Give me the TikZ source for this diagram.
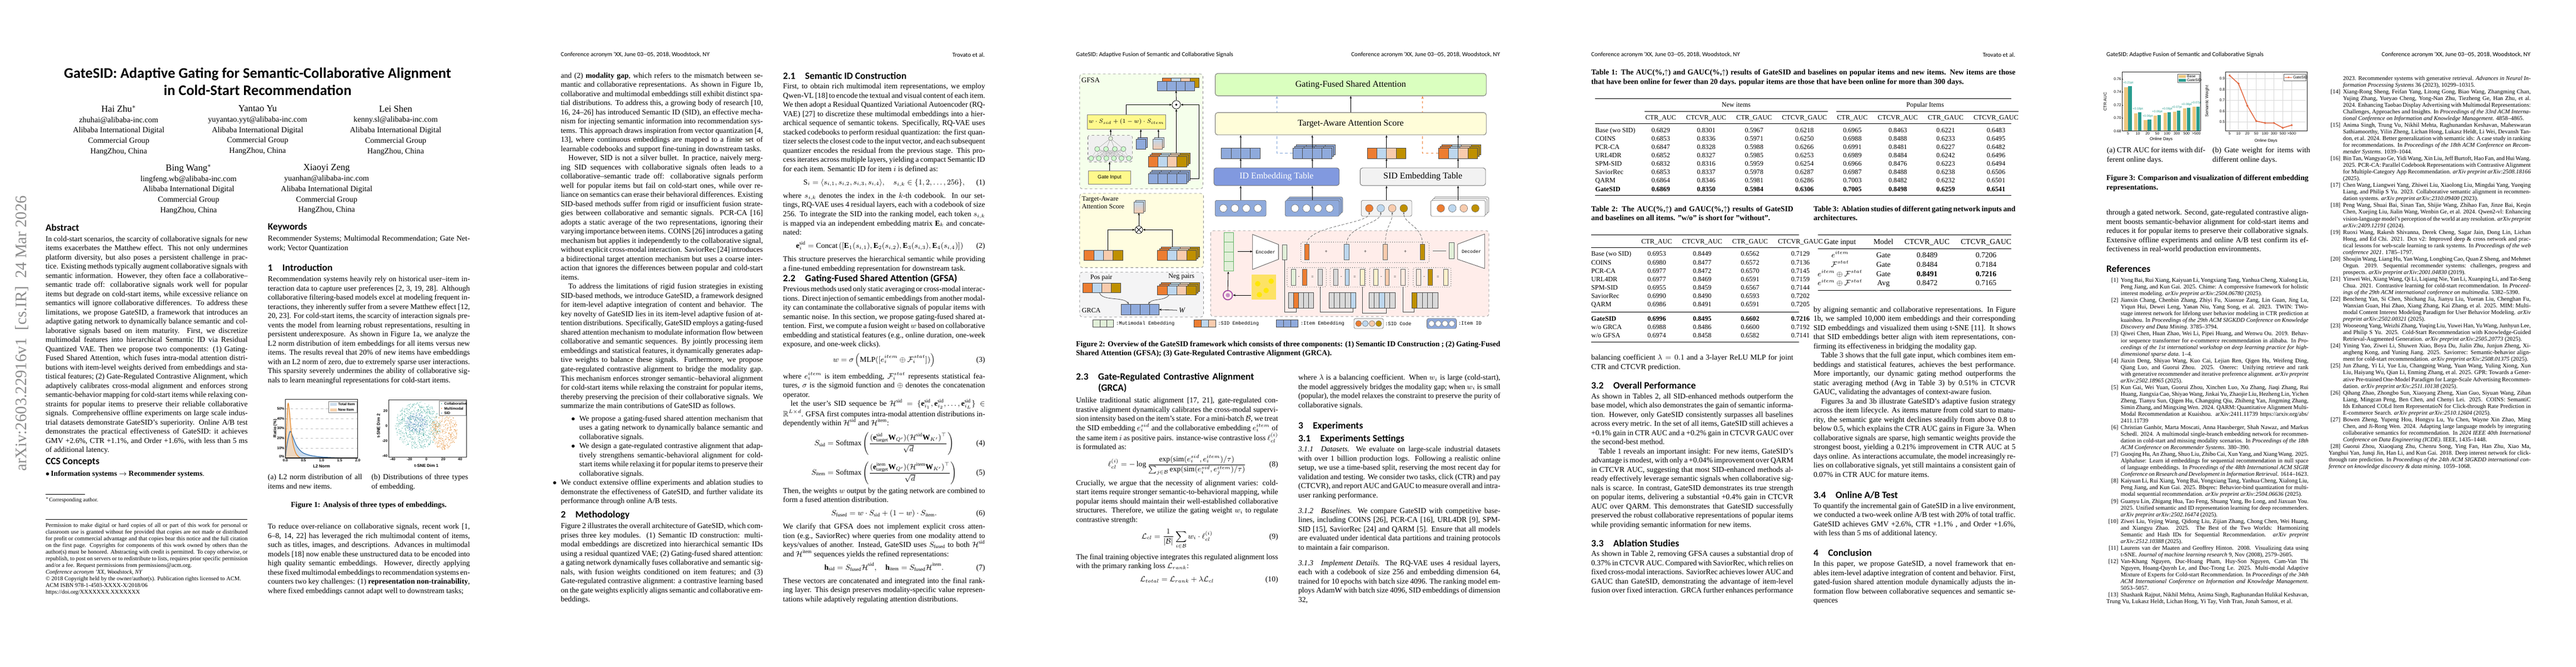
\documentclass[tikz,border=0pt]{standalone}
\usepackage{fontspec}
\usepackage{amsmath,amssymb}
\usepackage{booktabs}
\setmainfont{Liberation Serif}
\newfontfamily\hf{Carlito}
\newfontfamily\mfam{Liberation Mono}
\newfontfamily\pf{Liberation Sans}
\usetikzlibrary{arrows.meta}
\pgfdeclarelayer{bg}\pgfsetlayers{bg,main}
\definecolor{cO}{HTML}{ED7D31}\definecolor{cL}{HTML}{BDD7EE}\definecolor{cP}{HTML}{F8CBAD}
\definecolor{cG}{HTML}{BF9000}\definecolor{cB}{HTML}{8FAADC}\definecolor{cGr}{HTML}{E2F0D9}
\definecolor{cY}{HTML}{FFF2CC}\definecolor{cGy}{HTML}{D9D9D9}\definecolor{cTe}{HTML}{2A9D8F}
\definecolor{cBa}{HTML}{EDC77E}\definecolor{cRe}{HTML}{E2673F}\definecolor{cBl}{HTML}{2F6FB0}
\definecolor{cOr}{HTML}{E58A2E}\definecolor{cBd}{HTML}{7FA3D9}
\newcommand\bodyf{\fontsize{9}{10.9}\selectfont\parindent=9pt\abovedisplayskip=5pt plus 2pt\belowdisplayskip=5pt plus 2pt\abovedisplayshortskip=2pt\belowdisplayshortskip=3pt}
\newcommand\reff{\fontsize{7}{7.95}\selectfont\sloppy}
\newcommand\rf[2]{\par\hangindent=17pt\hangafter=1\noindent\makebox[14pt][r]{[#1]}\hspace{3pt}#2}
\newcommand\qv[5]{\foreach \cc [count=\ii from 0] in {#5}{\draw[fill=\cc,draw=black!70,line width=.35pt] ({#1+\ii*#3},{#2}) rectangle ++(#3,#4);}}
\newcommand\qs[5]{\qv{#1+4}{#2-4}{#3}{#4}{#5}\qv{#1+2}{#2-2}{#3}{#4}{#5}\qv{#1}{#2}{#3}{#4}{#5}}
\tikzset{
 col/.style={anchor=north west,inner sep=0pt,text width=240pt,align=justify,font=\bodyf},
 sec/.style={anchor=west,inner sep=0pt,font=\hf\bfseries\fontsize{11.5}{13}\selectfont},
 hdr/.style={anchor=west,inner sep=0pt,font=\hf\fontsize{7.3}{8}\selectfont},
 hdrr/.style={anchor=east,inner sep=0pt,font=\hf\fontsize{7.3}{8}\selectfont},
 capt/.style={anchor=north west,inner sep=0pt,align=justify,font=\fontsize{9}{10.9}\selectfont\bfseries},
 arr/.style={-{Stealth[length=3pt,width=2.4pt]},line width=.5pt},
 bx/.style={draw=black!55,rounded corners=3pt,line width=.6pt,minimum width=322pt,minimum height=26.5pt,font=\fontsize{10.5}{12}\selectfont},
 tk/.style={font=\pf\bfseries\fontsize{4.3}{5}\selectfont,inner sep=1pt},
 tk2/.style={font=\pf\fontsize{4.5}{5}\selectfont,inner sep=1pt},
 ax/.style={line width=.7pt,draw=black!85},
 pan/.style={dashed,draw=black!45,rounded corners=3pt,line width=.5pt},
 cir/.style={circle,draw=black!60,line width=.35pt,inner sep=0pt,minimum size=9pt},
}
\begin{document}
\begin{tikzpicture}[x=1pt,y=-1pt]
\begin{pgfonlayer}{bg}\fill[white] (0,0) rectangle (3060,792);\end{pgfonlayer}
\useasboundingbox (0,0) rectangle (3060,792);
%================= PAGE 1
\node[rotate=90,font=\fontsize{19}{19}\selectfont,text=black!45] (stamp) at (26,396) {arXiv:2603.22916v1\ \ [cs.IR]\ \ 24 Mar 2026};
\node[anchor=north,inner sep=0,align=center,font=\hf\bfseries\fontsize{17.5}{20.5}\selectfont] (title) at (306,80) {GateSID: Adaptive Gating for Semantic-Collaborative Alignment\\in Cold-Start Recommendation};
\tikzset{au/.style={anchor=north,inner sep=0,align=center,font=\fontsize{9.4}{12.4}\selectfont}}
\node[au] (a1) at (141,125) {{\fontsize{11}{12.4}\selectfont Hai Zhu$^{*}$}\\zhuhai@alibaba-inc.com\\Alibaba International Digital\\Commercial Group\\HangZhou, China};
\node[au] (a2) at (306,125) {{\fontsize{11}{12.4}\selectfont Yantao Yu}\\yuyantao.yyt@alibaba-inc.com\\Alibaba International Digital\\Commercial Group\\HangZhou, China};
\node[au] (a3) at (470,125) {{\fontsize{11}{12.4}\selectfont Lei Shen}\\kenny.sl@alibaba-inc.com\\Alibaba International Digital\\Commercial Group\\HangZhou, China};
\node[au] (a4) at (224,195) {{\fontsize{11}{12.4}\selectfont Bing Wang$^{*}$}\\lingfeng.wb@alibaba-inc.com\\Alibaba International Digital\\Commercial Group\\HangZhou, China};
\node[au] (a5) at (388,195) {{\fontsize{11}{12.4}\selectfont Xiaoyi Zeng}\\yuanhan@alibaba-inc.com\\Alibaba International Digital\\Commercial Group\\HangZhou, China};
\node[sec] (habs) at (54,270) {Abstract};
\node[col] (abs) at (54,280) {\noindent In cold-start scenarios, the scarcity of collaborative signals for new items exacerbates the Matthew effect. This not only undermines platform diversity, but also poses a persistent challenge in practice. Existing methods typically augment collaborative signals with semantic information. However, they often face a collaborative--semantic trade off: collaborative signals work well for popular items but degrade on cold-start items, while excessive reliance on semantics will ignore collaborative differences. To address these limitations, we propose GateSID, a framework that introduces an adaptive gating network to dynamically balance semantic and collaborative signals based on item maturity. First, we discretize multimodal features into hierarchical Semantic ID via Residual Quantized VAE. Then we propose two components: (1) Gating-Fused Shared Attention, which fuses intra-modal attention distributions with item-level weights derived from embeddings and statistical features; (2) Gate-Regulated Contrastive Alignment, which adaptively calibrates cross-modal alignment and enforces strong semantic-behavior mapping for cold-start items while relaxing constraints for popular items to preserve their reliable collaborative signals. Comprehensive offline experiments on large scale industrial datasets demonstrate GateSID's superiority. Online A/B test demonstrates the practical effectiveness of GateSID: it achieves GMV +2.6\%, CTR +1.1\%, and Order +1.6\%, with less than 5 ms of additional latency.};
\node[sec] (hccs) at (54,549) {CCS Concepts};
\node[anchor=west,inner sep=0,font=\fontsize{9}{10.9}\selectfont] (ccs) at (54,563) {$\bullet$\,\textbf{Information systems} $\rightarrow$ \textbf{Recommender systems}.};
\draw[line width=.4pt] (54,587) -- (101,587);
\node[anchor=west,inner sep=0,font=\fontsize{6.5}{7}\selectfont] (fn) at (54,594) {$^{*}$Corresponding author.};
\draw[line width=.4pt] (54,617) -- (294,617);
\node[anchor=north west,inner sep=0,text width=240pt,align=justify,font=\fontsize{6.9}{7.95}\selectfont] (perm) at (54,621) {Permission to make digital or hard copies of all or part of this work for personal or classroom use is granted without fee provided that copies are not made or distributed for profit or commercial advantage and that copies bear this notice and the full citation on the first page. Copyrights for components of this work owned by others than the author(s) must be honored. Abstracting with credit is permitted. To copy otherwise, or republish, to post on servers or to redistribute to lists, requires prior specific permission and/or a fee. Request permissions from permissions@acm.org.\\\textit{Conference acronym 'XX, Woodstock, NY}\\\copyright\ 2018 Copyright held by the owner/author(s). Publication rights licensed to ACM.\\ACM ISBN 978-1-4503-XXXX-X/2018/06\\https://doi.org/XXXXXXX.XXXXXXX};
\node[sec] (hkw) at (318,270) {Keywords};
\node[col] (kw) at (318,280) {\noindent Recommender Systems; Multimodal Recommendation; Gate Network; Vector Quantization};
\node[sec] (hint) at (318,318) {1\quad Introduction};
\node[col] (intro) at (318,328) {\noindent Recommendation systems heavily rely on historical user--item interaction data to capture user preferences [2, 3, 19, 28]. Although collaborative filtering-based models excel at modeling frequent interactions, they inherently suffer from a severe Matthew effect [12, 20, 23]. For cold-start items, the scarcity of interaction signals prevents the model from learning robust representations, resulting in persistent underexposure. As shown in Figure 1a, we analyze the L2 norm distribution of item embeddings for all items versus new items. The results reveal that 20\% of new items have embeddings with an L2 norm of zero, due to extremely sparse user interactions. This sparsity severely undermines the ability of collaborative signals to learn meaningful representations for cold-start items.};
% Fig 1a
\begin{scope}[shift={(339,544)},x=43pt,y=1.172pt]
\foreach \v in {10,20,30,40,50}{\draw[black!25,dashed,line width=.3pt] (0,\v) -- (2,\v); \node[tk,anchor=east] at (0,\v) {\v\%};}
\node[tk,anchor=east] at (0,1.5) {0\%};
\fill[cBl!25] plot[smooth] coordinates {(0,0) (0.05,15) (0.13,27) (0.2,22) (0.3,13) (0.4,8) (0.5,5) (0.7,2.5) (1.0,1) (1.5,0.2) (2,0)} -- cycle;
\fill[cOr!35,opacity=.8] plot[smooth] coordinates {(0,0) (0.03,30) (0.07,55) (0.11,48) (0.16,28) (0.22,13) (0.3,4) (0.4,0.5) (0.5,0)} -- cycle;
\draw[cBl,line width=.8pt] plot[smooth] coordinates {(0,0) (0.05,15) (0.13,27) (0.2,22) (0.3,13) (0.4,8) (0.5,5) (0.7,2.5) (1.0,1) (1.5,0.2) (2,0)};
\draw[cOr,line width=.8pt] plot[smooth] coordinates {(0,0) (0.03,30) (0.07,55) (0.11,48) (0.16,28) (0.22,13) (0.3,4) (0.4,0.5) (0.5,0)};
\draw[ax] (0,0) rectangle (2,59.2);
\foreach \v in {0.0,0.5,1.0,1.5,2.0}{\node[tk,anchor=north] at (\v,0) {\v};}
\node[tk,anchor=north,font=\pf\bfseries\fontsize{5}{6}\selectfont] at (1,-6) {L2 Norm};
\node[tk,rotate=90,anchor=south,font=\pf\bfseries\fontsize{5}{6}\selectfont] at (-0.2,30) {Ratio (\%)};
\draw[black!50,fill=white,line width=.3pt] (1.2,57.5) rectangle (1.97,46);
\fill[cBl!25] (1.24,55.8) rectangle (1.42,53);\fill[cOr!40] (1.24,50.3) rectangle (1.42,47.5);
\node[tk,anchor=west] at (1.43,54.4) {Total Item};\node[tk,anchor=west] at (1.43,48.9) {New Item};
\end{scope}
% Fig 1b
\begin{scope}
\clip (461.5,475) rectangle (554.6,543);
\begin{scope}[shift={(506.5,505.9)},x=1pt,y=0.883pt]
\pgfmathsetseed{7}
\foreach \i in {1,...,650}{\pgfmathsetmacro\ra{sqrt(rnd)}\pgfmathsetmacro\an{360*rnd}\fill[cTe] ({-10+27*\ra*cos(\an)},{1+32*\ra*sin(\an)}) circle (0.38pt);}
\foreach \i in {1,...,220}{\pgfmathsetmacro\ra{sqrt(rnd)}\pgfmathsetmacro\an{360*rnd}\fill[cBl!85] ({-12+13*\ra*cos(\an)},{4+13*\ra*sin(\an)}) circle (0.38pt);}
\foreach \i in {1,...,420}{\pgfmathsetmacro\ra{sqrt(rnd)}\pgfmathsetmacro\an{360*rnd}\fill[cOr] ({21+16*\ra*cos(\an)},{-7+25*\ra*sin(\an)}) circle (0.38pt);}
\end{scope}
\end{scope}
\begin{scope}[shift={(506.5,505.9)},x=1pt,y=0.883pt]
\draw[ax] (-45,-42) rectangle (48,35);
\foreach \v in {-40,-20,0,20,40}{\node[tk,anchor=north] at (\v,-42) {\v};}
\foreach \v in {-40,-20,0,20}{\node[tk,anchor=east] at (-45,\v) {\v};}
\node[tk,anchor=north,font=\pf\bfseries\fontsize{5}{6}\selectfont] at (0,-50) {t-SNE Dim 1};
\node[tk,rotate=90,anchor=south,font=\pf\bfseries\fontsize{5}{6}\selectfont] at (-54,0) {t-SNE Dim 2};
\draw[black!50,fill=white,line width=.3pt] (15,33.5) rectangle (47,14);
\fill[cTe] (18,30) circle (0.6pt);\fill[cOr] (18,23.5) circle (0.6pt);\fill[cBl] (18,17.2) circle (0.6pt);
\node[tk,anchor=west] at (20,30) {Collaborative};\node[tk,anchor=west] at (20,23.5) {Multimodal};\node[tk,anchor=west] at (20,17.2) {SID};
\end{scope}
\node[anchor=north west,inner sep=0,text width=112pt,align=justify,font=\fontsize{9}{10.9}\selectfont] (s1a) at (318,563) {(a) L2 norm distribution of all items and new items.};
\node[anchor=north west,inner sep=0,text width=115pt,align=justify,font=\fontsize{9}{10.9}\selectfont] (s1b) at (441,563) {(b) Distributions of three types of embedding.};
\node[anchor=north,inner sep=0,font=\fontsize{9}{10.9}\selectfont\bfseries] (f1c) at (438,596) {Figure 1: Analysis of three types of embeddings.};
\node[col] (intro2) at (318,622) {To reduce over-reliance on collaborative signals, recent work [1, 6--8, 14, 22] has leveraged the rich multimodal content of items, such as titles, images, and descriptions. Advances in multimodal models [18] now enable these unstructured data to be encoded into high quality semantic embeddings. However, directly applying these fixed multimodal embeddings to recommendation systems encounters two key challenges: (1) \textbf{representation non-trainability}, where fixed embeddings cannot adapt well to downstream tasks;};
%================= PAGE 2
\begin{scope}[xshift=612pt]
\node[hdr] (h2l) at (54,65) {Conference acronym 'XX, June 03--05, 2018, Woodstock, NY};
\node[hdrr] (h2r) at (558,65) {Trovato et al.};
\node[col] (p2a) at (54,86) {\noindent and (2) \textbf{modality gap}, which refers to the mismatch between semantic and collaborative representations. As shown in Figure 1b, collaborative and multimodal embeddings still exhibit distinct spatial distributions. To address this, a growing body of research [10, 16, 24--26] has introduced Semantic ID (SID), an effective mechanism for injecting semantic information into recommendation systems. This approach draws inspiration from vector quantization [4, 13], where continuous embeddings are mapped to a finite set of learnable codebooks and support fine-tuning in downstream tasks.\par
However, SID is not a silver bullet. In practice, naively merging SID sequences with collaborative signals often leads to a collaborative--semantic trade off: collaborative signals perform well for popular items but fail on cold-start ones, while over reliance on semantics can erase their behavioral differences. Existing SID-based methods suffer from rigid or insufficient fusion strategies between collaborative and semantic signals. PCR-CA [16] adopts a static average of the two representations, ignoring their varying importance between items. COINS [26] introduces a gating mechanism but applies it independently to the collaborative signal, without explicit cross-modal interaction. SaviorRec [24] introduces a bidirectional target attention mechanism but uses a coarse interaction that ignores the differences between popular and cold-start items.\par
To address the limitations of rigid fusion strategies in existing SID-based methods, we introduce GateSID, a framework designed for item-level adaptive integration of content and behavior. The key novelty of GateSID lies in its item-level adaptive fusion of attention distributions. Specifically, GateSID employs a gating-fused shared attention mechanism to modulate information flow between collaborative and semantic sequences. By jointly processing item embeddings and statistical features, it dynamically generates adaptive weights to balance these signals. Furthermore, we propose gate-regulated contrastive alignment to bridge the modality gap. This mechanism enforces stronger semantic--behavioral alignment for cold-start items while relaxing the constraint for popular items, thereby preserving the precision of their collaborative signals. We summarize the main contributions of GateSID as follows.\par\vspace{4pt}
\hangindent=22pt\hangafter=0\noindent\llap{$\bullet$\hspace{5pt}}We propose a gating-fused shared attention mechanism that uses a gating network to dynamically balance semantic and collaborative signals.\par
\hangindent=22pt\hangafter=0\noindent\llap{$\bullet$\hspace{5pt}}We design a gate-regulated contrastive alignment that adaptively strengthens semantic-behavioral alignment for cold-start items while relaxing it for popular items to preserve their collaborative signals.\par
\hangindent=22pt\hangafter=0\noindent\llap{$\bullet$\hspace{5pt}}We conduct extensive offline experiments and ablation studies to demonstrate the effectiveness of GateSID, and further validate its performance through online A/B tests.};
\node[sec] (hmeth) at (54,612) {2\quad Methodology};
\node[col] (meth) at (54,621) {\noindent Figure 2 illustrates the overall architecture of GateSID, which comprises three key modules. (1) Semantic ID construction: multimodal embeddings are discretized into hierarchical semantic IDs using a residual quantized VAE; (2) Gating-fused shared attention: a gating network dynamically fuses collaborative and semantic signals, with fusion weights conditioned on item features; and (3) Gate-regulated contrastive alignment: a contrastive learning based on the gate weights explicitly aligns semantic and collaborative embeddings.};
\node[sec] (h21) at (318,90) {2.1\quad Semantic ID Construction};
\node[col] (p21) at (318,99) {\noindent First, to obtain rich multimodal item representations, we employ Qwen-VL [18] to encode the textual and visual content of each item. We then adopt a Residual Quantized Variational Autoencoder (RQ-VAE) [27] to discretize these multimodal embeddings into a hierarchical sequence of semantic tokens. Specifically, RQ-VAE uses stacked codebooks to perform residual quantization: the first quantizer selects the closest code to the input vector, and each subsequent quantizer encodes the residual from the previous stage. This process iterates across multiple layers, yielding a compact Semantic ID for each item. Semantic ID for item $i$ is defined as:
\begin{equation*}\mathrm{S}_i=\langle s_{i,1},s_{i,2},s_{i,3},s_{i,4}\rangle,\quad s_{i,k}\in\{1,2,\ldots,256\},\tag{1}\end{equation*}
where $s_{i,k}$ denotes the index in the $k$-th codebook. In our settings, RQ-VAE uses 4 residual layers, each with a codebook of size 256. To integrate the SID into the ranking model, each token $s_{i,k}$ is mapped via an independent embedding matrix $\mathbf{E}_k$ and concatenated:
\begin{equation*}\mathbf{e}_i^{\mathrm{sid}}=\mathrm{Concat}\left(\left[\mathbf{E}_1(s_{i,1}),\mathbf{E}_2(s_{i,2}),\mathbf{E}_3(s_{i,3}),\mathbf{E}_4(s_{i,4})\right]\right)\tag{2}\end{equation*}
This structure preserves the hierarchical semantic while providing a fine-tuned embedding representation for downstream task.};
\node[sec] (h22) at (318,331) {2.2\quad Gating-Fused Shared Attention (GFSA)};
\node[col] (p22) at (318,340) {\noindent Previous methods used only static averaging or cross-modal interactions. Direct injection of semantic embeddings from another modality can contaminate the collaborative signals of popular items with semantic noise. In this section, we propose gating-fused shared attention. First, we compute a fusion weight $w$ based on collaborative embedding and statistical features (e.g., online duration, one-week exposure, and one-week clicks).
\begin{equation*}w=\sigma\left(\mathrm{MLP}([e_i^{item}\oplus\mathcal{F}_i^{stat}])\right)\tag{3}\end{equation*}
where $e_i^{item}$ is item embedding, $\mathcal{F}_i^{stat}$ represents statistical features, $\sigma$ is the sigmoid function and $\oplus$ denotes the concatenation operator.\par
let the user's SID sequence be $\mathcal{H}^{\mathrm{sid}}=\{\mathbf{e}^{\mathrm{sid}}_{i_1},\mathbf{e}^{\mathrm{sid}}_{i_2},\ldots,\mathbf{e}^{\mathrm{sid}}_{i_L}\}\in\mathbb{R}^{L\times d}$. GFSA first computes intra-modal attention distributions independently within $\mathcal{H}^{\mathrm{sid}}$ and $\mathcal{H}^{\mathrm{item}}$:
\begin{equation*}S_{\mathrm{sid}}=\mathrm{Softmax}\left(\frac{(\mathbf{e}^{\mathrm{sid}}_{\mathrm{target}}\mathbf{W}_{Q'})(\mathcal{H}^{\mathrm{sid}}\mathbf{W}_{K'})^{\top}}{\sqrt{d}}\right)\tag{4}\end{equation*}
\begin{equation*}S_{\mathrm{item}}=\mathrm{Softmax}\left(\frac{(\mathbf{e}^{\mathrm{item}}_{\mathrm{target}}\mathbf{W}_{Q'})(\mathcal{H}^{\mathrm{item}}\mathbf{W}_{K'})^{\top}}{\sqrt{d}}\right)\tag{5}\end{equation*}
Then, the weights $w$ output by the gating network are combined to form a fused attention distribution.
\begin{equation*}S_{\mathrm{fused}}=w\cdot S_{\mathrm{sid}}+(1-w)\cdot S_{\mathrm{item}}.\tag{6}\end{equation*}
We clarify that GFSA does not implement explicit cross attention (e.g., SaviorRec) where queries from one modality attend to keys/values of another. Instead, GateSID uses $S_{\mathrm{fused}}$ to both $\mathcal{H}^{\mathrm{sid}}$ and $\mathcal{H}^{\mathrm{item}}$ sequences yields the refined representations:
\begin{equation*}\mathbf{h}_{\mathrm{sid}}=S_{\mathrm{fused}}\mathcal{H}^{\mathrm{sid}},\quad\mathbf{h}_{\mathrm{item}}=S_{\mathrm{fused}}\mathcal{H}^{\mathrm{item}}.\tag{7}\end{equation*}
These vectors are concatenated and integrated into the final ranking layer. This design preserves modality-specific value representations while adaptively regulating attention distributions.};
\end{scope}
%================= PAGE 3
\begin{scope}[xshift=1224pt]
\node[hdr] (h3l) at (54,65) {GateSID: Adaptive Fusion of Semantic and Collaborative Signals};
\node[hdrr] (h3r) at (558,65) {Conference acronym 'XX, June 03--05, 2018, Woodstock, NY};
\draw[pan,fill=green!30!lime!8!white] (58.6,87.8) rectangle (205,224.3);
\draw[pan,fill=yellow!12] (58.6,229.8) rectangle (205.7,317.8);
\draw[pan,fill=blue!5!gray!8] (58.6,323.3) rectangle (205.7,376.5);
\draw[pan,fill=orange!10!pink!25] (214,274) rectangle (544.6,375.8);
\node[bx,fill=green!45!lime!25!white] (gf) at (380.5,100.5) {Gating-Fused Shared Attention};
\node[bx,fill=yellow!15] (ta) at (380.5,147) {Target-Aware Attention Score};
\node[bx,minimum width=149pt,minimum height=21pt,fill=cB!90!blue,text=white] (idt) at (292.4,209.9) {ID Embedding Table};
\node[bx,minimum width=149pt,minimum height=21pt,fill=black!5] (sidt) at (466.2,209.9) {SID Embedding Table};
\draw[draw=black!60,fill=cB,rounded corners=2pt] (306.6,233.9) rectangle ++(64.4,19);
\draw[draw=black!60,fill=cB,rounded corners=2pt] (304.6,235.9) rectangle ++(64.4,19);
\draw[draw=black!60,fill=white,rounded corners=2pt] (479.5,233.9) rectangle ++(65,19);
\draw[draw=black!60,fill=white,rounded corners=2pt] (477.5,235.9) rectangle ++(65,19);
\node[draw=black!60,fill=cB,rounded corners=2pt,minimum width=60.6pt,minimum height=19pt] (b1) at (249.7,247.4) {};
\node[draw=black!60,fill=cB,rounded corners=2pt,minimum width=64.4pt,minimum height=19pt] (b2) at (334.8,247.4) {};
\node[draw=black!60,fill=black!5,rounded corners=2pt,minimum width=60pt,minimum height=19pt] (b3) at (423,247.4) {};
\node[draw=black!60,fill=white,rounded corners=2pt,minimum width=65pt,minimum height=19pt] (b4) at (508,247.4) {};
\foreach \bb in {b1,b2}{\foreach \dx in {-20.5,-6.8,6.8,20.5}{\node[cir,fill=white] at ([xshift=\dx pt]\bb.center) {};}}
\foreach \dx/\cc [count=\k] in {-20.5/cO,-6.8/cL,6.8/cP,20.5/cG}{\node[cir,fill=\cc] (s\k) at ([xshift=\dx pt]b3.center) {};\node[cir,fill=\cc] at ([xshift=\dx pt]b4.center) {};}
\node[inner sep=0,minimum width=46pt,minimum height=12pt] (v1) at (249.7,182) {};
\node[inner sep=0,minimum width=46pt,minimum height=12pt] (v2) at (334.8,182) {};
\node[inner sep=0,minimum width=46pt,minimum height=12pt] (v3) at (423,182) {};
\node[inner sep=0,minimum width=46pt,minimum height=12pt] (v4) at (508,182) {};
\qv{226.7}{176}{11.5}{12}{cB,cB,cB,cB}
\qs{311.8}{176}{11.5}{12}{cB,cB,cB,cB}
\qv{400}{176}{11.5}{12}{cO,cL,cP,cG}
\qs{485}{176}{11.5}{12}{cO,cL,cP,cG}
\foreach \bb/\vv/\tt in {b1/v1/idt,b2/v2/idt,b3/v3/sidt,b4/v4/sidt}{
 \draw[arr] (\bb.north) -- (\bb.north|-\tt.south);
 \draw[arr] (\bb.north|-\tt.north) -- (\vv.south);
 \draw[arr] (\vv.north) -- (\vv.north|-ta.south);}
\draw[arr] (ta.north) -- (gf.south);
\coordinate (bd) at (292.8,182);\coordinate (od) at (465.8,182);
\begin{pgfonlayer}{bg}
\draw[dashed,cBd,line width=.8pt,-{Stealth[length=3.5pt]}] (v2.west) -- (bd) -- (bd|-gf.south);
\draw[dashed,cO,line width=.8pt,-{Stealth[length=3.5pt]}] (v4.west) -- (od) -- (od|-gf.south);
\end{pgfonlayer}
% RQ-VAE
\foreach \j in {0,1,2,3}{\draw[draw=green!50!black!60,fill=cGr,line width=.35pt] (229.6,{276.2+\j*11.4}) rectangle ++(11.7,11.4);}
\draw[draw=black!70,fill=white,line width=.5pt] (263.9,278.4) -- (294.7,290.4) -- (294.7,308) -- (263.9,320) -- cycle;
\node[font=\mfam\fontsize{5.5}{6}\selectfont,inner sep=0] (enc) at (279.3,299.2) {Encoder};
\coordinate (encin) at (263.9,298.7);
\draw[arr] (246,298.7) -- (encin);
\node[draw=black!60,fill=cGr,minimum width=5.5pt,minimum height=18pt,inner sep=0] (zb) at (301.8,299.4) {};
\draw[dotted,line width=.6pt,rounded corners=2pt,draw=black!70] (321.3,287.6) rectangle (473.6,311.9);
\foreach \xx/\cc [count=\k] in {328.3/cO,375.6/cL,421.6/cP,465.7/cG}{\node[draw=black!60,fill=\cc,minimum width=5.5pt,minimum height=18pt,inner sep=0] (q\k) at (\xx,299.2) {};}
\foreach \xx in {351.4,397.8,445.4}{\node[font=\fontsize{6}{6}\selectfont] at (\xx,299.2) {+};}
\draw[black!60,line width=.4pt] (478,298) -- (494,298);
\node[draw=black!60,fill=cGr,minimum width=6pt,minimum height=19pt,inner sep=0] (zd) at (500.3,297.8) {};
\draw[draw=black!70,fill=white,line width=.5pt] (507.5,290) -- (539.5,278) -- (539.5,318.9) -- (507.5,308) -- cycle;
\node[font=\mfam\fontsize{5.5}{6}\selectfont,inner sep=0] (dec) at (524,298.5) {Decoder};
\foreach \xa/\xb in {304.9/351.4,356/398.2,402.9/449,454.8/499.7}{\draw[dotted,line width=.6pt,rounded corners=2pt,draw=black!70] (\xa,317.8) rectangle (\xb,340.8);}
\foreach \xx/\cc in {312.3/cGr,325.6/cO,344.3/cGy,362.7/cGy,376/cL,394.3/cY,410/cY,423.6/cP,442.3/cP!40,461/cP!40,474.7/cG,493.5/cY}{\draw[draw=black!60,fill=\cc,line width=.35pt] ({\xx-2.5},320) rectangle ({\xx+2.5},338.6);}
\foreach \xx/\ss in {319/-,335/=,369.3/-,385.2/=,416.8/-,433/=,467.8/-,484.1/=}{\node[font=\fontsize{5}{5}\selectfont,inner sep=0] at (\xx,329.3) {\ss};}
\qv{306.5}{347.4}{6}{18.6}{cGy,cO,cGy,cGy,cGy}
\qv{354.5}{347.4}{6.4}{18.6}{cGy,cGy,cGy,cGy,cL}
\qv{402}{347.4}{6.2}{18.6}{cGy,cGy,cL,cGy,cGy}
\qv{452.9}{347.4}{6.2}{18.6}{cG,cGy,cGy,cGy,cGy}
\draw[black!70,line width=.4pt] (zb.south) -- (301.8,370.4) -- (315.5,370.4) -- (315.5,366);
\draw[black!70,line width=.4pt] (344.3,340.8) -- (344.3,370.4) -- (383.3,370.4) -- (383.3,366);
\draw[black!70,line width=.4pt] (394.3,340.8) -- (394.3,372) -- (423,372) -- (423,366);
\draw[black!70,line width=.4pt] (442.3,340.8) -- (442.3,370.4) -- (456,370.4) -- (456,366);
\node[circle,draw=violet!70,line width=1.2pt,minimum size=11pt,inner sep=0] (qw) at (234.5,350.6) {};
\fill[violet!45] (qw) circle (2.5pt);
\node[fill=yellow!70!orange!60,minimum width=29pt,minimum height=30pt,inner sep=0] (img) at (277,341) {};
\foreach \px/\py in {270/337,280/345,286/334,272/350}{\fill[yellow!90!orange] (\px,\py) circle (3.2pt);}
\draw[arr] (img.west|-qw) -- (qw.east);
\draw[arr] (qw.north) -- (235,322.5);
\foreach \k in {1,2,3,4}{\draw[densely dashed,black!70,line width=.4pt,-{Stealth[length=2.5pt]}] (q\k.north) .. controls ([yshift=22pt]q\k.north) and ([yshift=-14pt]s\k.south) .. (s\k.south);}
% GFSA panel
\node[anchor=west,inner sep=0,font=\fontsize{8.5}{9}\selectfont] (lgf) at (60.5,95.5) {GFSA};
\qv{156.5}{92.6}{11}{11}{cO,cL,cP,cG}
\node[inner sep=0,minimum width=44pt,minimum height=11pt] (ov) at (173,102) {};
\qv{151}{96.6}{11}{11}{cB,cB,cB,cB}
\node[circle,draw=black,fill=white,minimum size=10pt,inner sep=0,line width=.5pt] (od1) at (173.3,124.4) {};
\fill (od1) circle (1.3pt);
\draw[arr] (od1.north) -- (ov.south);
\node[draw=black!50,fill=yellow!45,minimum width=93pt,minimum height=17.5pt,inner sep=0,font=\fontsize{7}{8}\selectfont] (fm) at (114,144.75) {$w\cdot S_{sid}+(1-w)\cdot S_{item}$};
\draw[arr] (fm.north) |- (od1.west);
\draw[dashed,draw=black!60,fill=black!6,rounded corners=2pt] (68.3,160.8) rectangle (121,192.3);
\node[cir,fill=cGr,minimum size=5pt] (n0) at (95.3,164.5) {};
\foreach \xx [count=\k] in {79.3,89.8,100.3,110.5}{\node[cir,fill=green!20,minimum size=6pt] (m\k) at (\xx,177) {}; \draw[black!50,line width=.2pt] (n0) -- (m\k);}
\foreach \xx [count=\k] in {72.2,81.2,90.2,99.2,108.2,117}{\node[cir,fill=green!20,minimum size=6pt] (l\k) at (\xx,188) {};}
\foreach \a in {1,2,3,4}{\foreach \b in {1,...,6}{\draw[black!40,line width=.15pt] (m\a) -- (l\b);}}
\coordinate (nnt) at (95.3,160.8);
\draw[arr] (nnt) -- (nnt|-fm.south);
\qv{127.7}{163.4}{10.9}{12}{cB}\qv{125.7}{165.4}{10.9}{12}{cB}
\coordinate (sbt) at (131.2,163.4);
\draw[arr] (sbt) -- (sbt|-fm.south);
\shade[top color=cL,bottom color=cP] (147.6,163.4) rectangle ++(11,12);\draw[black!60] (147.6,163.4) rectangle ++(11,12);
\shade[top color=cL,bottom color=cP] (145.6,165.4) rectangle ++(11,12);\draw[black!60] (145.6,165.4) rectangle ++(11,12);
\coordinate (sgt) at (152,163.4);
\draw[arr] (sgt) -- (sgt|-fm.south);
\qs{139.8}{186}{11.4}{12}{cO,cL,cP,cG}
\draw[arr] (173.3,182) -- (od1.south);
\qs{139.8}{206}{11.4}{12}{cB,cB,cB,cB}
\draw[arr] (189.5,212) -| (200,124.4) -- (od1.east);
\node[draw=black!50,fill=yellow!45,minimum width=50pt,minimum height=16pt,inner sep=0,font=\pf\fontsize{6}{7}\selectfont] (gi) at (94,210.7) {Gate Input};
\draw[arr] (gi.north) -- (94,192.3);
% TA panel
\node[anchor=north west,inner sep=0,align=left,font=\fontsize{8}{9.2}\selectfont] (lta) at (61,233) {Target-Aware\\Attention Score};
\shade[top color=cL,bottom color=cP] (125,237.8) rectangle ++(11,13);\draw[black!60] (125,237.8) rectangle ++(11,13);
\shade[top color=cL,bottom color=cP] (123,239.8) rectangle ++(11,13);\draw[black!60] (123,239.8) rectangle ++(11,13);
\node[circle,draw=black,fill=white,minimum size=9pt,inner sep=0,line width=.5pt] (ot) at (128.8,272.9) {};
\draw[line width=.5pt] (ot.north west) -- (ot.south east) (ot.north east) -- (ot.south west);
\draw[arr] (ot.north) -- (128.8,252.8);
\qv{63.6}{297.4}{11.5}{11.8}{cO,cL,cP,cG}
\qs{151}{297.4}{11.5}{11.8}{cO,cL,cP,cG}
\draw[arr] (92.1,297.4) |- (ot.west);
\draw[arr] (168.6,293.4) |- (ot.east);
% GRCA panel
\node[anchor=west,inner sep=0,font=\fontsize{8}{9}\selectfont] (lpos) at (71,329.8) {Pos pair};
\node[anchor=east,inner sep=0,font=\fontsize{8}{9}\selectfont] (lneg) at (195,328.8) {Neg pairs};
\qv{62.5}{336}{11.2}{11.5}{cO,cL,cP,cG}
\qs{151}{339.5}{11.4}{10.5}{cO,cL,cP,cG}
\node[inner sep=0,minimum width=45pt,minimum height=12.3pt] (gv) at (130.1,367.7) {};
\qv{107.7}{361.6}{11.2}{12.3}{cB,cB,cB,cB}
\draw[arr,black!70] (82,347.5) .. controls (85,358) and (110,352) .. (117,361.2);
\draw[arr,black!70] (165,350) .. controls (160,358) and (145,354) .. (140,361.2);
\node[anchor=west,inner sep=0,font=\fontsize{8}{9}\selectfont] (lgr) at (61,369) {GRCA};
\node[inner sep=0,font=\fontsize{8.5}{9}\selectfont\itshape] (wl) at (180,368.5) {W};
\draw[arr] ([xshift=-2pt]wl.west) -- (gv.east);
% legend
\tikzset{lg/.style={anchor=west,inner sep=0,font=\mfam\fontsize{5.8}{6}\selectfont}}
\qv{74.2}{379.5}{8.2}{9}{cGr,cGr,cGr}\node[lg] (lg1) at (101.5,384.3) {:Mutimodal Embedding};
\qv{194}{379.5}{8.6}{9}{cO,cL,cP}\node[lg] (lg2) at (222.5,384.3) {:SID Embedding};
\qv{292}{379.5}{8.6}{9}{cB,cB,cB}\node[lg] (lg3) at (320.5,384.3) {:Item Embedding};
\node[draw=black!60,fill=black!5,rounded corners=2pt,minimum width=35pt,minimum height=12pt,inner sep=0] (lc1) at (401.8,384.3) {};
\foreach \dx/\cc in {-12/cO,-4/cL,4/cP,12/cG}{\node[cir,fill=\cc,minimum size=7pt] at ([xshift=\dx pt]lc1.center) {};}
\node[lg] (lg4) at (421,384.3) {:SID Code};
\node[draw=black!60,fill=cB,rounded corners=2pt,minimum width=35pt,minimum height=12pt,inner sep=0] (lc2) at (488.5,384.3) {};
\foreach \dx in {-12,-4,4,12}{\node[cir,fill=white,minimum size=7pt] at ([xshift=\dx pt]lc2.center) {};}
\node[lg] (lg5) at (508,384.3) {:Item ID};
\node[capt,text width=504pt] (f2c) at (54,405) {Figure 2: Overview of the GateSID framework which consists of three components: (1) Semantic ID Construction ; (2) Gating-Fused Shared Attention (GFSA); (3) Gate-Regulated Contrastive Alignment (GRCA).};
\node[anchor=north west,inner sep=0,text width=240pt,font=\hf\bfseries\fontsize{11.5}{13}\selectfont] (h23) at (54,443) {2.3\quad Gate-Regulated Contrastive Alignment\\\hphantom{2.3\quad}(GRCA)};
\node[col] (p23) at (54,472) {\noindent Unlike traditional static alignment [17, 21], gate-regulated contrastive alignment dynamically calibrates the cross-modal supervision intensity based on the item's state. For a mini-batch $\mathcal{B}$, we treat the SID embedding $e_i^{sid}$ and the collaborative embedding $e_i^{item}$ of the same item $i$ as positive pairs. instance-wise contrastive loss $\ell_{cl}^{(i)}$ is formulated as:
\begin{equation*}\ell_{cl}^{(i)}=-\log\frac{\exp(\mathrm{sim}(e_i^{sid},e_i^{item})/\tau)}{\sum_{j\in\mathcal{B}}\exp(\mathrm{sim}(e_i^{sid},e_j^{item})/\tau)}\tag{8}\end{equation*}
Crucially, we argue that the necessity of alignment varies: cold-start items require stronger semantic-to-behavioral mapping, while popular items should maintain their well-established collaborative structures. Therefore, we utilize the gating weight $w_i$ to regulate contrastive strength:
\begin{equation*}\mathcal{L}_{cl}=\frac{1}{|\mathcal{B}|}\sum_{i\in\mathcal{B}}w_i\cdot\ell_{cl}^{(i)}\tag{9}\end{equation*}
The final training objective integrates this regulated alignment loss with the primary ranking loss $\mathcal{L}_{rank}$:
\begin{equation*}\mathcal{L}_{total}=\mathcal{L}_{rank}+\lambda\mathcal{L}_{cl}\tag{10}\end{equation*}};
\node[col] (p3r) at (318,445) {\noindent where $\lambda$ is a balancing coefficient. When $w_i$ is large (cold-start), the model aggressively bridges the modality gap; when $w_i$ is small (popular), the model relaxes the constraint to preserve the purity of collaborative signals.};
\node[sec] (h3) at (318,506) {3\quad Experiments};
\node[sec] (h31) at (318,521.5) {3.1\quad Experiments Settings};
\node[col] (p311) at (318,530) {\noindent\textit{3.1.1\quad Datasets.} We evaluate on large-scale industrial datasets with over 1 billion production logs. Following a realistic online setup, we use a time-based split, reserving the most recent day for validation and testing. We consider two tasks, click (CTR) and pay (CTCVR), and report AUC and GAUC to measure overall and intra-user ranking performance.};
\node[col] (p312) at (318,603) {\noindent\textit{3.1.2\quad Baselines.} We compare GateSID with competitive baselines, including COINS [26], PCR-CA [16], URL4DR [9], SPM-SID [15], SaviorRec [24] and QARM [5]. Ensure that all models are evaluated under identical data partitions and training protocols to maintain a fair comparison.};
\node[col] (p313) at (318,665) {\noindent\textit{3.1.3\quad Implement Details.} The RQ-VAE uses 4 residual layers, each with a codebook of size 256 and embedding dimension 64, trained for 10 epochs with batch size 4096. The ranking model employs AdamW with batch size 4096, SID embeddings of dimension 32,};
\end{scope}
%================= PAGE 4
\begin{scope}[xshift=1836pt]
\node[hdr] (h4l) at (54,65) {Conference acronym 'XX, June 03--05, 2018, Woodstock, NY};
\node[hdrr] (h4r) at (558,65) {Trovato et al.};
\node[capt,text width=504pt] (t1c) at (54,82.5) {Table 1: The AUC(\%,$\uparrow$) and GAUC(\%,$\uparrow$) results of GateSID and baselines on popular items and new items. New items are those that have been online for fewer than 20 days. popular items are those that have been online for more than 300 days.};
\node[anchor=north,inner sep=0,font=\fontsize{8}{10}\selectfont] (t1) at (306,116.5) {\begin{tabular*}{494pt}{@{\extracolsep{\fill}}lcccccccc@{}}
\toprule
 & \multicolumn{4}{c}{New items} & \multicolumn{4}{c}{Popular Items}\\
\cmidrule(lr){2-5}\cmidrule(l){6-9}
 & CTR\_AUC & CTCVR\_AUC & CTR\_GAUC & CTCVR\_GAUC & CTR\_AUC & CTCVR\_AUC & CTR\_GAUC & CTCVR\_GAUC\\
\midrule
Base (wo SID) & 0.6829 & 0.8301 & 0.5967 & 0.6218 & 0.6965 & 0.8463 & 0.6221 & 0.6483\\
COINS & 0.6853 & 0.8336 & 0.5971 & 0.6250 & 0.6988 & 0.8488 & 0.6233 & 0.6495\\
PCR-CA & 0.6847 & 0.8328 & 0.5988 & 0.6266 & 0.6991 & 0.8481 & 0.6227 & 0.6482\\
URL4DR & 0.6852 & 0.8327 & 0.5985 & 0.6253 & 0.6989 & 0.8484 & 0.6242 & 0.6496\\
SPM-SID & 0.6832 & 0.8316 & 0.5959 & 0.6254 & 0.6966 & 0.8476 & 0.6223 & 0.6494\\
SaviorRec & 0.6853 & 0.8337 & 0.5978 & 0.6287 & 0.6987 & 0.8488 & 0.6238 & 0.6506\\
QARM & 0.6864 & 0.8346 & 0.5981 & 0.6286 & 0.7003 & 0.8482 & 0.6232 & 0.6501\\
\textbf{GateSID} & \textbf{0.6869} & \textbf{0.8350} & \textbf{0.5984} & \textbf{0.6306} & \textbf{0.7005} & \textbf{0.8498} & \textbf{0.6259} & \textbf{0.6541}\\
\bottomrule
\end{tabular*}};
\node[capt,text width=240pt] (t2c) at (54,244.5) {Table 2: The AUC(\%,$\uparrow$) and GAUC(\%,$\uparrow$) results of GateSID and baselines on all items. "w/o" is short for "without".};
\node[anchor=north west,inner sep=0,font=\fontsize{8}{10}\selectfont] (t2) at (54,278.5) {\begin{tabular*}{247pt}{@{\extracolsep{\fill}}lcccc@{}}
\toprule
 & CTR\_AUC & CTCVR\_AUC & CTR\_GAUC & CTCVR\_GAUC\\
\midrule
Base (wo SID) & 0.6953 & 0.8449 & 0.6562 & 0.7129\\
COINS & 0.6980 & 0.8477 & 0.6572 & 0.7136\\
PCR-CA & 0.6977 & 0.8472 & 0.6570 & 0.7145\\
URL4DR & 0.6977 & 0.8469 & 0.6591 & 0.7159\\
SPM-SID & 0.6955 & 0.8459 & 0.6567 & 0.7144\\
SaviorRec & 0.6990 & 0.8490 & 0.6593 & 0.7202\\
QARM & 0.6986 & 0.8491 & 0.6591 & 0.7205\\
\specialrule{1pt}{3pt}{3pt}
\textbf{GateSID} & \textbf{0.6996} & \textbf{0.8495} & \textbf{0.6602} & \textbf{0.7216}\\
w/o GRCA & 0.6988 & 0.8486 & 0.6600 & 0.7192\\
w/o GFSA & 0.6974 & 0.8458 & 0.6582 & 0.7141\\
\bottomrule
\end{tabular*}};
\node[capt,text width=240pt] (t3c) at (318,244.5) {Table 3: Ablation studies of different gating network inputs and architectures.};
\node[anchor=north west,inner sep=0,font=\fontsize{9}{11}\selectfont] (t3) at (323,278.5) {\begin{tabular*}{230pt}{@{\extracolsep{\fill}}cccc@{}}
\toprule
Gate input & Model & CTCVR\_AUC & CTCVR\_GAUC\\
\midrule
$e^{item}$ & Gate & 0.8489 & 0.7206\\
$\mathcal{F}^{stat}$ & Gate & 0.8484 & 0.7184\\
$e^{item}\oplus\mathcal{F}^{stat}$ & Gate & \textbf{0.8491} & \textbf{0.7216}\\
$e^{item}\oplus\mathcal{F}^{stat}$ & Avg & 0.8472 & 0.7165\\
\bottomrule
\end{tabular*}};
\node[col] (p4a) at (54,421) {\noindent balancing coefficient $\lambda=0.1$ and a 3-layer ReLU MLP for joint CTR and CTCVR prediction.};
\node[sec] (h32) at (54,458) {3.2\quad Overall Performance};
\node[col] (p32) at (54,467) {\noindent As shown in Tables 2, all SID-enhanced methods outperform the base model, which also demonstrates the gain of semantic information. However, only GateSID consistently surpasses all baselines across every metric. In the set of all items, GateSID still achieves a +0.1\% gain in CTR AUC and a +0.2\% gain in CTCVR GAUC over the second-best method.\par
Table 1 reveals an important insight: For new items, GateSID's advantage is modest, with only a +0.04\% improvement over QARM in CTCVR AUC, suggesting that most SID-enhanced methods already effectively leverage semantic signals when collaborative signals is scarce. In contrast, GateSID demonstrates its true strength on popular items, delivering a substantial +0.4\% gain in CTCVR AUC over QARM. This demonstrates that GateSID successfully preserved the robust collaborative representations of popular items while providing semantic information for new items.};
\node[sec] (h33) at (54,645) {3.3\quad Ablation Studies};
\node[col] (p33) at (54,654) {\noindent As shown in Table 2, removing GFSA causes a substantial drop of 0.37\% in CTCVR AUC. Compared with SaviorRec, which relies on fixed cross-modal interactions. SaviorRec achieves lower AUC and GAUC than GateSID, demonstrating the advantage of item-level fusion over fixed interaction. GRCA further enhances performance};
\node[col] (p4r) at (318,364) {\noindent by aligning semantic and collaborative representations. In Figure 1b, we sampled 10,000 item embeddings and their corresponding SID embeddings and visualized them using t-SNE [11]. It shows that SID embeddings better align with item representations, confirming its effectiveness in bridging the modality gap.\par
Table 3 shows that the full gate input, which combines item embeddings and statistical features, achieves the best performance. More importantly, our dynamic gating method outperforms the static averaging method (Avg in Table 3) by 0.51\% in CTCVR GAUC, validating the advantages of context-aware fusion.\par
Figures 3a and 3b illustrate GateSID's adaptive fusion strategy across the item lifecycle. As items mature from cold start to maturity, the semantic gate weight declines steadily from above 0.8 to below 0.5, which explains the CTR AUC gains in Figure 3a. When collaborative signals are sparse, high semantic weights provide the strongest boost, yielding a 0.21\% improvement in CTR AUC at 5 days online. As interactions accumulate, the model increasingly relies on collaborative signals, yet still maintains a consistent gain of 0.07\% in CTR AUC for mature items.};
\node[sec] (h34) at (318,588.3) {3.4\quad Online A/B Test};
\node[col] (p34) at (318,597) {\noindent To quantify the incremental gain of GateSID in a live environment, we conducted a two-week online A/B test with 20\% of total traffic. GateSID achieves GMV +2.6\%, CTR +1.1\% , and Order +1.6\%, with less than 5 ms of additional latency.};
\node[sec] (h4) at (318,656.7) {4\quad Conclusion};
\node[col] (p4c) at (318,666) {\noindent In this paper, we propose GateSID, a novel framework that enables item-level adaptive integration of content and behavior. First, gated-fusion shared attention module dynamically adjusts the information flow between collaborative sequences and semantic sequences};
\end{scope}
%================= PAGE 5
\begin{scope}[xshift=2448pt]
\node[hdr] (h5l) at (54,65) {GateSID: Adaptive Fusion of Semantic and Collaborative Signals};
\node[hdrr] (h5r) at (558,65) {Conference acronym 'XX, June 03--05, 2018, Woodstock, NY};
\begin{scope}[shift={(79.9,155.6)},x=11.57pt,y=771pt]
\foreach \b/\g/\l [count=\i from 0] in {0.747/0.749/+0.21pt,0.7075/0.709/+0.18pt,0.697/0.6975/+0.06pt,0.704/0.7045/+0.06pt,0.708/0.7088/+0.08pt,0.710/0.711/+0.07pt,0.715/0.7158/+0.08pt,0.717/0.7177/+0.07pt}{
 \fill[cBa] ({\i-0.38},0) rectangle ({\i-0.02},{\b-0.68});
 \fill[cTe] ({\i+0.02},0) rectangle ({\i+0.38},{\g-0.68});
 \node[tk2,text=cTe,font=\pf\fontsize{3.6}{4}\selectfont,anchor=south] at (\i,{\g-0.68+0.0015}) {\l};}
\foreach \t [count=\i from 0] in {5,10,20,50,100,300,500,>500}{\node[tk2,anchor=north] at (\i,0) {\t};}
\foreach \v in {0.68,0.70,0.72,0.74,0.76}{\node[tk2,anchor=east] at (-0.6,{\v-0.68}) {\v};\draw[line width=.3pt] (-0.62,{\v-0.68}) -- (-0.52,{\v-0.68});}
\draw[ax] (-0.62,0) rectangle (7.45,0.0906);
\node[tk2,anchor=north,font=\pf\fontsize{5}{6}\selectfont] at (3.4,-0.0085) {Online Days};
\node[tk2,rotate=90,anchor=south,font=\pf\fontsize{5}{6}\selectfont] at (-2.1,0.045) {CTR AUC};
\draw[black!60,fill=white,line width=.3pt] (5.1,0.088) rectangle (7.3,0.0745);
\fill[cBa] (5.2,0.0863) rectangle (5.95,0.0823);\fill[cTe] (5.2,0.0802) rectangle (5.95,0.0762);
\node[tk2,anchor=west] at (5.95,0.0843) {Base};\node[tk2,anchor=west] at (5.95,0.0782) {GateSID};
\end{scope}
\begin{scope}[shift={(200.5,144.8)},x=10.53pt,y=128.3pt]
\foreach \v in {0.5,0.6,0.7,0.8,0.9}{\draw[black!15,line width=.3pt] (-0.43,{\v-0.5}) -- (8.6,{\v-0.5}); \node[tk2,anchor=east] at (-0.43,{\v-0.5}) {\v};}
\foreach \i in {0,...,7}{\draw[black!15,line width=.3pt] (\i,-0.0842) -- (\i,0.46);}
\draw[cRe,line width=1pt] plot coordinates {(0,0.43) (1,0.355) (2,0.15) (3,0.008) (4,-0.01) (5,-0.01) (6,-0.055) (7,-0.03)};
\foreach \i/\v in {0/0.43,1/0.355,2/0.15,3/0.008,4/-0.01,5/-0.01,6/-0.055,7/-0.03}{\fill[cRe] (\i,\v) circle (1.3pt);}
\draw[ax] (-0.43,-0.0842) rectangle (8.74,0.46);
\foreach \t [count=\i from 0] in {5,10,20,50,100,300,500,>500}{\node[tk2,anchor=north] at (\i,-0.0842) {\t};}
\node[tk2,anchor=north,font=\pf\fontsize{5}{6}\selectfont] at (4.1,-0.15) {Online Days};
\node[tk2,rotate=90,anchor=south,font=\pf\fontsize{5}{6}\selectfont] at (-2.2,0.19) {Semantic Weight};
\draw[black!60,fill=white,line width=.3pt] (6.1,0.445) rectangle (8.6,0.38);
\draw[cRe,line width=.8pt] (6.25,0.4125) -- (7.05,0.4125);\fill[cRe] (6.65,0.4125) circle (1.1pt);
\node[tk2,anchor=west] at (7.05,0.4125) {GateSID};
\end{scope}
\node[anchor=north west,inner sep=0,text width=117pt,align=justify,font=\fontsize{9}{10.9}\selectfont] (s3a) at (54.5,175) {(a) CTR AUC for items with different online days.};
\node[anchor=north west,inner sep=0,text width=116pt,align=justify,font=\fontsize{9}{10.9}\selectfont] (s3b) at (180,175) {(b) Gate weight for items with different online days.};
\node[capt,text width=240pt] (f3c) at (54,208) {Figure 3: Comparison and visualization of different embedding representations.};
\node[col] (p5a) at (54,249) {\noindent through a gated network. Second, gate-regulated contrastive alignment boosts semantic-behavior alignment for cold-start items and reduces it for popular items to preserve their collaborative signals. Extensive offline experiments and online A/B test confirm its effectiveness in real-world production environments.};
\node[sec] (href) at (54,319) {References};
\node[anchor=north west,inner sep=0,text width=240pt,align=justify,font=\reff] (refl) at (54,327) {%
\rf{1}{Yong Bai, Rui Xiang, Kaiyuan Li, Yongxiang Tang, Yanhua Cheng, Xialong Liu, Peng Jiang, and Kun Gai. 2025. Chime: A compressive framework for holistic interest modeling. \textit{arXiv preprint arXiv:2504.06780} (2025).}
\rf{2}{Jianxin Chang, Chenbin Zhang, Zhiyi Fu, Xiaoxue Zang, Lin Guan, Jing Lu, Yiqun Hui, Dewei Leng, Yanan Niu, Yang Song, et al. 2023. TWIN: TWo-stage interest network for lifelong user behavior modeling in CTR prediction at kuaishou. In \textit{Proceedings of the 29th ACM SIGKDD Conference on Knowledge Discovery and Data Mining}. 3785--3794.}
\rf{3}{Qiwei Chen, Huan Zhao, Wei Li, Pipei Huang, and Wenwu Ou. 2019. Behavior sequence transformer for e-commerce recommendation in alibaba. In \textit{Proceedings of the 1st international workshop on deep learning practice for high-dimensional sparse data}. 1--4.}
\rf{4}{Jiaxin Deng, Shiyao Wang, Kuo Cai, Lejian Ren, Qigen Hu, Weifeng Ding, Qiang Luo, and Guorui Zhou. 2025. Onerec: Unifying retrieve and rank with generative recommender and iterative preference alignment. \textit{arXiv preprint arXiv:2502.18965} (2025).}
\rf{5}{Kun Gai, Wei Yuan, Guorui Zhou, Xinchen Luo, Xu Zhang, Jiaqi Zhang, Rui Huang, Jiangxia Cao, Shiyao Wang, Jinkai Yu, Zhaojie Liu, Hezheng Lin, Yichen Zheng, Tianyu Sun, Qigen Hu, Changqing Qiu, Zhiheng Yan, Jingming Zhang, Simin Zhang, and Mingxing Wen. 2024. QARM: Quantitative Alignment Multi-Modal Recommendation at Kuaishou. arXiv:2411.11739 https://arxiv.org/abs/ 2411.11739}
\rf{6}{Christian Ganh\"or, Marta Moscati, Anna Hausberger, Shah Nawaz, and Markus Schedl. 2024. A multimodal single-branch embedding network for recommendation in cold-start and missing modality scenarios. In \textit{Proceedings of the 18th ACM Conference on Recommender Systems}. 380--390.}
\rf{7}{Guoqing Hu, An Zhang, Shuo Liu, Zhibo Cai, Xun Yang, and Xiang Wang. 2025. Alphafuse: Learn id embeddings for sequential recommendation in null space of language embeddings. In \textit{Proceedings of the 48th International ACM SIGIR Conference on Research and Development in Information Retrieval}. 1614--1623.}
\rf{8}{Kaiyuan Li, Rui Xiang, Yong Bai, Yongxiang Tang, Yanhua Cheng, Xialong Liu, Peng Jiang, and Kun Gai. 2025. Bbqrec: Behavior-bind quantization for multi-modal sequential recommendation. \textit{arXiv preprint arXiv:2504.06636} (2025).}
\rf{9}{Guanyu Lin, Zhigang Hua, Tao Feng, Shuang Yang, Bo Long, and Jiaxuan You. 2025. Unified semantic and ID representation learning for deep recommenders. \textit{arXiv preprint arXiv:2502.16474} (2025).}
\rf{10}{Ziwei Liu, Yejing Wang, Qidong Liu, Zijian Zhang, Chong Chen, Wei Huang, and Xiangyu Zhao. 2025. The Best of the Two Worlds: Harmonizing Semantic and Hash IDs for Sequential Recommendation. \textit{arXiv preprint arXiv:2512.10388} (2025).}
\rf{11}{Laurens van der Maaten and Geoffrey Hinton. 2008. Visualizing data using t-SNE. \textit{Journal of machine learning research} 9, Nov (2008), 2579--2605.}
\rf{12}{Van-Khang Nguyen, Duc-Hoang Pham, Huy-Son Nguyen, Cam-Van Thi Nguyen, Hoang-Quynh Le, and Duc-Trong Le. 2025. Multi-modal Adaptive Mixture of Experts for Cold-start Recommendation. In \textit{Proceedings of the 34th ACM International Conference on Information and Knowledge Management}. 5053--5057.}
\rf{13}{Shashank Rajput, Nikhil Mehta, Anima Singh, Raghunandan Hulikal Keshavan, Trung Vu, Lukasz Heldt, Lichan Hong, Yi Tay, Vinh Tran, Jonah Samost, et al.}};
\node[anchor=north west,inner sep=0,text width=240pt,align=justify,font=\reff] (refr) at (318,87) {%
\par\hangindent=17pt\hangafter=0\noindent 2023. Recommender systems with generative retrieval. \textit{Advances in Neural Information Processing Systems} 36 (2023), 10299--10315.
\rf{14}{Xiang-Rong Sheng, Feifan Yang, Litong Gong, Biao Wang, Zhangming Chan, Yujing Zhang, Yueyao Cheng, Yong-Nan Zhu, Tiezheng Ge, Han Zhu, et al. 2024. Enhancing Taobao Display Advertising with Multimodal Representations: Challenges, Approaches and Insights. In \textit{Proceedings of the 33rd ACM International Conference on Information and Knowledge Management}. 4858--4865.}
\rf{15}{Anima Singh, Trung Vu, Nikhil Mehta, Raghunandan Keshavan, Maheswaran Sathiamoorthy, Yilin Zheng, Lichan Hong, Lukasz Heldt, Li Wei, Devansh Tandon, et al. 2024. Better generalization with semantic ids: A case study in ranking for recommendations. In \textit{Proceedings of the 18th ACM Conference on Recommender Systems}. 1039--1044.}
\rf{16}{Bin Tan, Wangyao Ge, Yidi Wang, Xin Liu, Jeff Burtoft, Hao Fan, and Hui Wang. 2025. PCR-CA: Parallel Codebook Representations with Contrastive Alignment for Multiple-Category App Recommendation. \textit{arXiv preprint arXiv:2508.18166} (2025).}
\rf{17}{Chen Wang, Liangwei Yang, Zhiwei Liu, Xiaolong Liu, Mingdai Yang, Yueqing Liang, and Philip S Yu. 2023. Collaborative semantic alignment in recommendation systems. \textit{arXiv preprint arXiv:2310.09400} (2023).}
\rf{18}{Peng Wang, Shuai Bai, Sinan Tan, Shijie Wang, Zhihao Fan, Jinze Bai, Keqin Chen, Xuejing Liu, Jialin Wang, Wenbin Ge, et al. 2024. Qwen2-vl: Enhancing vision-language model's perception of the world at any resolution. \textit{arXiv preprint arXiv:2409.12191} (2024).}
\rf{19}{Ruoxi Wang, Rakesh Shivanna, Derek Cheng, Sagar Jain, Dong Lin, Lichan Hong, and Ed Chi. 2021. Dcn v2: Improved deep \& cross network and practical lessons for web-scale learning to rank systems. In \textit{Proceedings of the web conference 2021}. 1785--1797.}
\rf{20}{Shoujin Wang, Liang Hu, Yan Wang, Longbing Cao, Quan Z Sheng, and Mehmet Orgun. 2019. Sequential recommender systems: challenges, progress and prospects. \textit{arXiv preprint arXiv:2001.04830} (2019).}
\rf{21}{Yinwei Wei, Xiang Wang, Qi Li, Liqiang Nie, Yan Li, Xuanping Li, and Tat-Seng Chua. 2021. Contrastive learning for cold-start recommendation. In \textit{Proceedings of the 29th ACM international conference on multimedia}. 5382--5390.}
\rf{22}{Bencheng Yan, Si Chen, Shichang Jia, Jianyu Liu, Yueran Liu, Chenghan Fu, Wanxian Guan, Hui Zhao, Xiang Zhang, Kai Zhang, et al. 2025. MIM: Multi-modal Content Interest Modeling Paradigm for User Behavior Modeling. \textit{arXiv preprint arXiv:2502.00321} (2025).}
\rf{23}{Wooseong Yang, Weizhi Zhang, Yuqing Liu, Yuwei Han, Yu Wang, Junhyun Lee, and Philip S Yu. 2025. Cold-Start Recommendation with Knowledge-Guided Retrieval-Augmented Generation. \textit{arXiv preprint arXiv:2505.20773} (2025).}
\rf{24}{Yining Yao, Ziwei Li, Shuwen Xiao, Boya Du, Jialin Zhu, Junjun Zheng, Xiangheng Kong, and Yuning Jiang. 2025. Saviorrec: Semantic-behavior alignment for cold-start recommendation. \textit{arXiv preprint arXiv:2508.01375} (2025).}
\rf{25}{Jun Zhang, Yi Li, Yue Liu, Changping Wang, Yuan Wang, Yuling Xiong, Xun Liu, Haiyang Wu, Qian Li, Enming Zhang, et al. 2025. GPR: Towards a Generative Pre-trained One-Model Paradigm for Large-Scale Advertising Recommendation. \textit{arXiv preprint arXiv:2511.10138} (2025).}
\rf{26}{Qihang Zhao, Zhongbo Sun, Xiaoyang Zheng, Xian Guo, Siyuan Wang, Zihan Liang, Mingcan Peng, Ben Chen, and Chenyi Lei. 2025. COINS: SemantiC Ids Enhanced COLd Item RepresentatioN for Click-through Rate Prediction in E-commerce Search. \textit{arXiv preprint arXiv:2510.12604} (2025).}
\rf{27}{Bowen Zheng, Yupeng Hou, Hongyu Lu, Yu Chen, Wayne Xin Zhao, Ming Chen, and Ji-Rong Wen. 2024. Adapting large language models by integrating collaborative semantics for recommendation. In \textit{2024 IEEE 40th International Conference on Data Engineering (ICDE)}. IEEE, 1435--1448.}
\rf{28}{Guorui Zhou, Xiaoqiang Zhu, Chenru Song, Ying Fan, Han Zhu, Xiao Ma, Yanghui Yan, Junqi Jin, Han Li, and Kun Gai. 2018. Deep interest network for click-through rate prediction. In \textit{Proceedings of the 24th ACM SIGKDD international conference on knowledge discovery \& data mining}. 1059--1068.}};
\end{scope}
\end{tikzpicture}
\end{document}
